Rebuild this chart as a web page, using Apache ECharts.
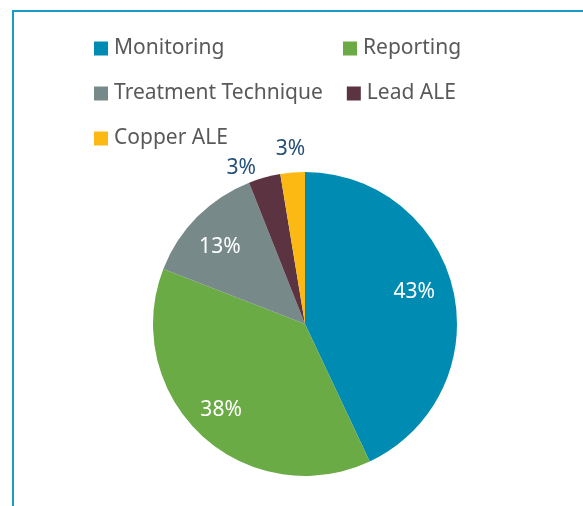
<!DOCTYPE html>
<html>
<head>
<meta charset="utf-8">
<script src="https://cdn.jsdelivr.net/npm/echarts@6/dist/echarts.min.js"></script>
<style>
    html,body{margin:0;padding:0;background:#fff;}
    #wrap{position:relative;width:583px;height:506px;overflow:hidden;}
    #frame{position:absolute;left:12px;top:10px;width:700px;height:700px;border:2px solid #1a9cc8;box-sizing:border-box;}
    #chart{position:absolute;left:0;top:0;width:583px;height:506px;}
</style>
</head>
<body>
<div id="wrap">
    <div id="frame"></div>
    <div id="chart"></div>
</div>
<script>
    // categories and shares (percent)
    const categories = ['Monitoring', 'Reporting', 'Treatment Technique', 'Lead ALE', 'Copper ALE'];
    const shares = [43.0, 37.9, 13.1, 3.4, 2.6];
    const colors = ['#008bb2', '#6aab45', '#778a89', '#5c3340', '#fdb913'];
    // which slices carry their label outside the pie
    const outsideLabel = [false, false, false, true, true];
    // small nudges so the labels sit where the original placed them
    const labelNudge = [[-8, -6], [-2, -2], [0, 8], [-16, 17], [0, 3]];

    const cx = 305, cy = 324, r = 152;
    const font = '"Noto Sans", "Open Sans", sans-serif';

    let chart = echarts.init(document.getElementById('chart'));

    let fmt = function (p) {
        return Math.round(p.value) + '%';
    };

    let mainData = categories.map((name, i) => {
        return {name: name, value: shares[i], itemStyle: {color: colors[i]}};
    });
    let innerLabelData = categories.map((name, i) => {
        return {name: name, value: shares[i], label: {show: !outsideLabel[i], offset: labelNudge[i]}};
    });
    let outerLabelData = categories.map((name, i) => {
        return {name: name, value: shares[i], label: {show: outsideLabel[i], offset: labelNudge[i]}};
    });

    let option = {
        animation: false,
        legend: {
            left: 94,
            top: 38,
            width: 520,
            padding: 0,
            itemWidth: 14,
            itemHeight: 14,
            itemGap: 24,
            icon: 'rect',
            selectedMode: false,
            data: categories,
            textStyle: {
                color: '#595959',
                fontFamily: font,
                fontSize: 21,
                lineHeight: 20,
                width: 205,
                padding: [0, 0, 0, 1]
            }
        },
        series: [
            {
                type: 'pie',
                center: [cx, cy],
                radius: r,
                startAngle: 90,
                clockwise: true,
                silent: true,
                label: {show: false},
                labelLine: {show: false},
                data: mainData
            },
            {
                // label layer for labels sitting inside the slices
                type: 'pie',
                center: [cx, cy],
                radius: [r * 0.54, r],
                startAngle: 90,
                silent: true,
                itemStyle: {color: 'rgba(0,0,0,0)'},
                labelLine: {show: false},
                label: {
                    position: 'inside',
                    formatter: fmt,
                    color: '#ffffff',
                    fontFamily: font,
                    fontSize: 21
                },
                data: innerLabelData
            },
            {
                // label layer for the thin slices
                type: 'pie',
                center: [cx, cy],
                radius: [r + 14, r + 34],
                startAngle: 90,
                silent: true,
                itemStyle: {color: 'rgba(0,0,0,0)'},
                labelLine: {show: false},
                label: {
                    position: 'inside',
                    formatter: fmt,
                    color: '#24507a',
                    fontFamily: font,
                    fontSize: 21
                },
                data: outerLabelData
            }
        ]
    };
    chart.setOption(option);
</script>
</body>
</html>
